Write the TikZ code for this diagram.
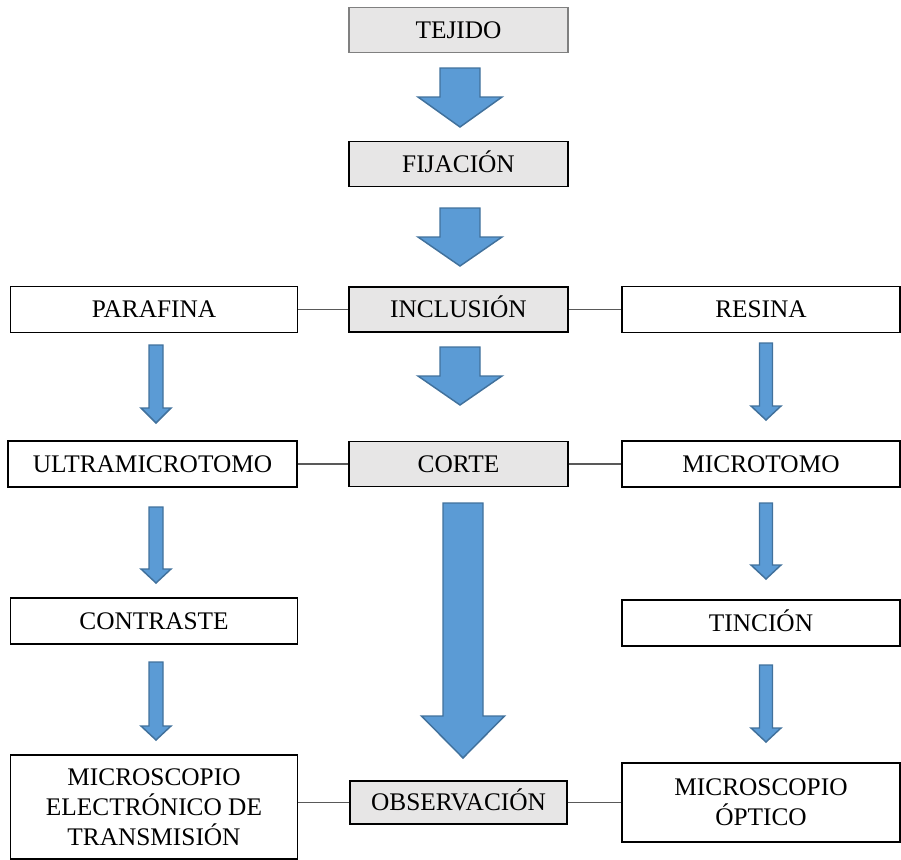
\documentclass[tikz,border=0pt]{standalone}
\usepackage{fontspec}
\setmainfont{Liberation Serif}
\usepackage{tikz}
\usetikzlibrary{positioning}
\definecolor{flechablue}{HTML}{5B9BD5}
\definecolor{flechaedge}{HTML}{41719C}
\definecolor{pasogray}{HTML}{E7E6E6}

% block arrow: centre x, top, start of head, tip, half shaft, half head
\newcommand{\flecha}[6]{%
  \draw[flechaedge, fill=flechablue, line width=1.1pt, line join=miter]
    (#1-#5,#2) -- (#1+#5,#2) -- (#1+#5,#3) -- (#1+#6,#3) -- (#1,#4)
    -- (#1-#6,#3) -- (#1-#5,#3) -- cycle;}

\begin{document}
\begin{tikzpicture}[x=0.75pt, y=-0.75pt,
linea/.style={text height=15pt, text depth=3pt},
paso/.style={rectangle, draw, line width=0.9pt, fill=pasogray, linea,
  minimum width=219*0.75pt, minimum height=45*0.75pt, inner sep=0pt},
metodo/.style={rectangle, draw, line width=0.9pt, fill=white,
  minimum width=287*0.75pt, minimum height=46*0.75pt, inner sep=0pt},
enlace/.style={draw=black!65, line width=0.8pt}]
  \useasboundingbox (0,0) rectangle (901,860);
  \fontsize{19}{22.5}\selectfont
  % central column
  \node[paso, draw=black!50] (tejido) at (458.5,30)   {TEJIDO};
  \node[paso] (fijacion)    at (458.5,164)   {FIJACIÓN};
  \node[paso] (inclusion)   at (458.5,309.5) {INCLUSIÓN};
  \node[paso] (corte)       at (458.5,464)   {CORTE};
  \node[paso, minimum width=217*0.75pt, minimum height=43*0.75pt]
    (observacion) at (458.5,802.5) {OBSERVACIÓN};
  % left column
  \node[metodo, linea] (parafina)  at (154,309.5) {PARAFINA};
  \node[metodo, linea, minimum width=289*0.75pt]
    (ultra)     at (152.5,464) {ULTRAMICROTOMO};
  \node[metodo, linea] (contraste) at (154,621)   {CONTRASTE};
  \node[metodo, align=center, minimum height=104*0.75pt]
    (met)       at (154,807)   {MICROSCOPIO\\ELECTRÓNICO DE\\TRANSMISIÓN};
  % right column
  \node[metodo, linea, minimum width=278*0.75pt] (resina)    at (761,309.5) {RESINA};
  \node[metodo, linea, minimum width=278*0.75pt] (microtomo) at (761,464)   {MICROTOMO};
  \node[metodo, linea, minimum width=278*0.75pt] (tincion)   at (761,623)   {TINCIÓN};
  \node[metodo, align=center, minimum width=278*0.75pt, minimum height=79*0.75pt]
    (optico)    at (761,802.5) {MICROSCOPIO\\ÓPTICO};

  \foreach \from/\to in {parafina/inclusion,inclusion/resina,ultra/corte,
    corte/microtomo,observacion/optico}
    \draw[enlace] (\from) -- (\to);
  \draw[enlace] (observacion.west) -- (observacion.west -| met.east);

  % wide arrows
  \flecha{460}{68}{97}{127}{20}{42}
  \flecha{460}{208}{237}{266}{20}{42}
  \flecha{460}{347}{376}{405}{20}{42}
  \flecha{463}{503}{716}{758}{20}{41.5}
  % narrow arrows
  \foreach \arriba/\cabeza/\punta in {345/408/423,507/569/583,662/726/740}
    {\flecha{156}{\arriba}{\cabeza}{\punta}{7}{15}}
  \foreach \arriba/\cabeza/\punta in {343/406/420,503/565/579,665/728/742}
    {\flecha{766}{\arriba}{\cabeza}{\punta}{6.5}{15}}
\end{tikzpicture}
\end{document}
